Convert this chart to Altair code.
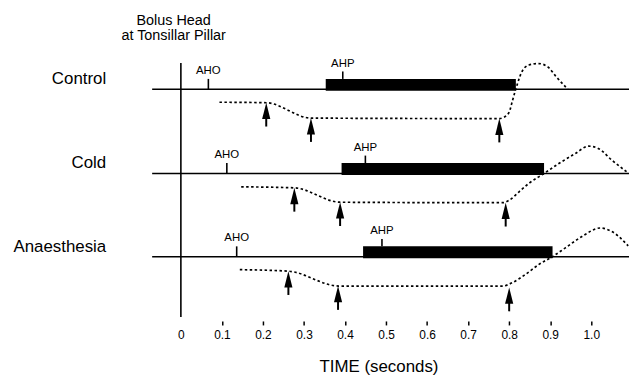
import altair as alt
import pandas as pd

# ---------------- data ----------------
ROWS = ["Control", "Cold", "Anaesthesia"]

# event times (s)
AHO_T = [0.067, 0.112, 0.136]
AHP_T = [0.3945, 0.4496, 0.490]
BAR_START = [0.353, 0.3916, 0.444]
BAR_END = [0.8163, 0.885, 0.9057]

# dotted displacement traces: time (s) and displacement (arbitrary units, + = up)
CTL_T = [0.094, 0.208, 0.317, 0.776, 0.788, 0.800, 0.808, 0.816, 0.832, 0.848, 0.872, 0.896, 0.913, 0.943]
CTL_D = [-13.0, -13.5, -29.0, -29.5, -28.0, -23.0, -11.5, 0.0, 18.5, 24.5, 26.0, 22.0, 13.5, 0.0]

COLD_T = [0.147, 0.2765, 0.388, 0.784, 0.800, 0.824, 0.848, 0.885, 0.921, 0.961, 0.9935, 1.018, 1.050, 1.090]
COLD_D = [-13.5, -14.5, -29.0, -29.5, -27.0, -18.5, -10.0, 0.0, 10.0, 20.0, 27.5, 25.0, 13.5, 0.5]

ANA_T = [0.1436, 0.262, 0.385, 0.784, 0.808, 0.840, 0.8726, 0.905, 0.937, 0.9775, 1.022, 1.050, 1.090]
ANA_D = [-13.0, -14.5, -29.5, -29.5, -26.0, -17.7, -7.7, 0.0, 9.0, 20.5, 29.0, 25.5, 11.0]

CURVE_T = [CTL_T, COLD_T, ANA_T]
CURVE_D = [CTL_D, COLD_D, ANA_D]

# arrows: time (s) and displacement at the arrow tip
ARROW_T = [[0.208, 0.317, 0.776], [0.2765, 0.388, 0.7915], [0.262, 0.383, 0.800]]
ARROW_D = [[-13.5, -29.0, -29.5], [-14.5, -29.0, -29.5], [-14.5, -29.5, -31.0]]

TICK_VALUES = [0.0, 0.1, 0.2, 0.3, 0.4, 0.5, 0.6, 0.7, 0.8, 0.9, 1.0]
HEADER = ["Bolus Head", "at Tonsillar Pillar"]
X_TITLE = "TIME (seconds)"

# ---------------- layout ----------------
X_DOMAIN = [-0.078, 1.092]
W, H = 484, 310
ROW_BASE = [229.5, 144.7, 60.7]      # baseline level of each row on the y scale
LINE_START = -0.07
FONT = "Liberation Sans"

xscale = alt.Scale(domain=X_DOMAIN, nice=False, zero=False)
yscale = alt.Scale(domain=[0, H], nice=False, zero=False)

XAXIS = alt.Axis(values=TICK_VALUES, domain=False, grid=False, tickSize=4, tickWidth=1.5,
                 tickColor="black", tickOpacity=alt.ExprRef(expr="datum.value == 0 ? 0 : 1"),
                 offset=4, labelPadding=5, labelFontSize=12, labelFont=FONT, labelColor="black",
                 labelFlush=False, labelOverlap=False,
                 labelExpr="datum.value == 0 ? '0' : format(datum.value, '.1f')", title="")


def X(f):
    return alt.X(f, type="quantitative", scale=xscale, axis=XAXIS)


def Y(f):
    return alt.Y(f, type="quantitative", scale=yscale, axis=None)


# ---------------- tables ----------------
curve_rows = []
for r, name in enumerate(ROWS):
    for i, (t, d) in enumerate(zip(CURVE_T[r], CURVE_D[r])):
        curve_rows.append({"row": name, "i": i, "t": t, "y": ROW_BASE[r] + d})
curves = pd.DataFrame(curve_rows)

base_df = pd.DataFrame({"row": ROWS, "x": [LINE_START] * 3, "x2": [X_DOMAIN[1]] * 3, "y": ROW_BASE})
bar_df = pd.DataFrame({"row": ROWS, "x": BAR_START, "x2": BAR_END,
                       "y": [b - 1.5 for b in ROW_BASE], "y2": [b + 10.5 for b in ROW_BASE]})
aho_df = pd.DataFrame({"t": AHO_T, "y": ROW_BASE, "y2": [b + 10.5 for b in ROW_BASE],
                       "ly": [b + 15.5 for b in ROW_BASE], "lab": ["AHO"] * 3})
ahp_df = pd.DataFrame({"t": AHP_T, "y": [b + 10.5 for b in ROW_BASE], "y2": [b + 18 for b in ROW_BASE],
                       "ly": [b + 23 for b in ROW_BASE], "lab": ["AHP"] * 3})
arrow_rows = []
for r in range(3):
    for t, d in zip(ARROW_T[r], ARROW_D[r]):
        tip = ROW_BASE[r] + d
        arrow_rows.append({"t": t, "tip": tip, "y": tip - 24, "y2": tip - 10})
arrows = pd.DataFrame(arrow_rows)
label_df = pd.DataFrame({"row": ROWS, "y": [b + 5 for b in ROW_BASE]})
vline_df = pd.DataFrame({"t": [0.0], "y": [0.0], "y2": [256.0]})
header_df = pd.DataFrame({"txt": HEADER, "y": [294.7, 279.0]})
title_df = pd.DataFrame({"txt": [X_TITLE], "t": [0.4827], "y": [-55.0]})

# ---------------- layers ----------------
baselines = alt.Chart(base_df).mark_rule(color="black", strokeWidth=1.6).encode(
    x=X("x"), x2="x2", y=Y("y"))

bars = alt.Chart(bar_df).mark_rect(color="black").encode(x=X("x"), x2="x2", y=Y("y"), y2="y2")

aho = alt.Chart(aho_df).mark_rule(color="black", strokeWidth=1.6).encode(x=X("t"), y=Y("y"), y2="y2")
aho_lab = alt.Chart(aho_df).mark_text(font=FONT, fontSize=11.5, baseline="alphabetic", color="black").encode(
    x=X("t"), y=Y("ly"), text="lab")
ahp = alt.Chart(ahp_df).mark_rule(color="black", strokeWidth=1.6).encode(x=X("t"), y=Y("y"), y2="y2")
ahp_lab = alt.Chart(ahp_df).mark_text(font=FONT, fontSize=11.5, baseline="alphabetic", color="black").encode(
    x=X("t"), y=Y("ly"), text="lab")

lines = alt.Chart(curves).mark_line(color="black", strokeWidth=1.7, strokeDash=[2.5, 2.5],
                                    interpolate="monotone").encode(
    x=X("t"), y=Y("y"), detail="row:N", order="i:Q")

shafts = alt.Chart(arrows).mark_rule(color="black", strokeWidth=2).encode(x=X("t"), y=Y("y"), y2="y2")
heads = alt.Chart(arrows).mark_point(shape="M0,0L0.5,2L-0.5,2Z", size=270, filled=True, color="black",
                                     opacity=1, strokeWidth=0).encode(x=X("t"), y=Y("tip"))

vline = alt.Chart(vline_df).mark_rule(color="black", strokeWidth=1.6).encode(x=X("t"), y=Y("y"), y2="y2")

row_labels = alt.Chart(label_df).mark_text(font=FONT, fontSize=17, align="right", baseline="alphabetic",
                                           color="black").encode(
    x=alt.value(-43), y=Y("y"), text="row")

header = alt.Chart(header_df).mark_text(font=FONT, fontSize=14.5, align="center", baseline="alphabetic",
                                        color="black").encode(
    x=alt.value(25), y=Y("y"), text="txt")

xtitle = alt.Chart(title_df).mark_text(font=FONT, fontSize=17, align="center", baseline="alphabetic",
                                       color="black").encode(
    x=X("t"), y=Y("y"), text="txt")

chart = alt.layer(baselines, bars, aho, aho_lab, ahp, ahp_lab, lines, shafts, heads, vline,
                  row_labels, header, xtitle).properties(
    width=W, height=H, autosize="none",
    padding={"left": 142, "top": 0, "right": 0, "bottom": 58},
    background="white",
).configure(font=FONT).configure_view(strokeWidth=0, stroke="white")

chart.save("out.html", embed_options={"renderer": "svg", "actions": False})
